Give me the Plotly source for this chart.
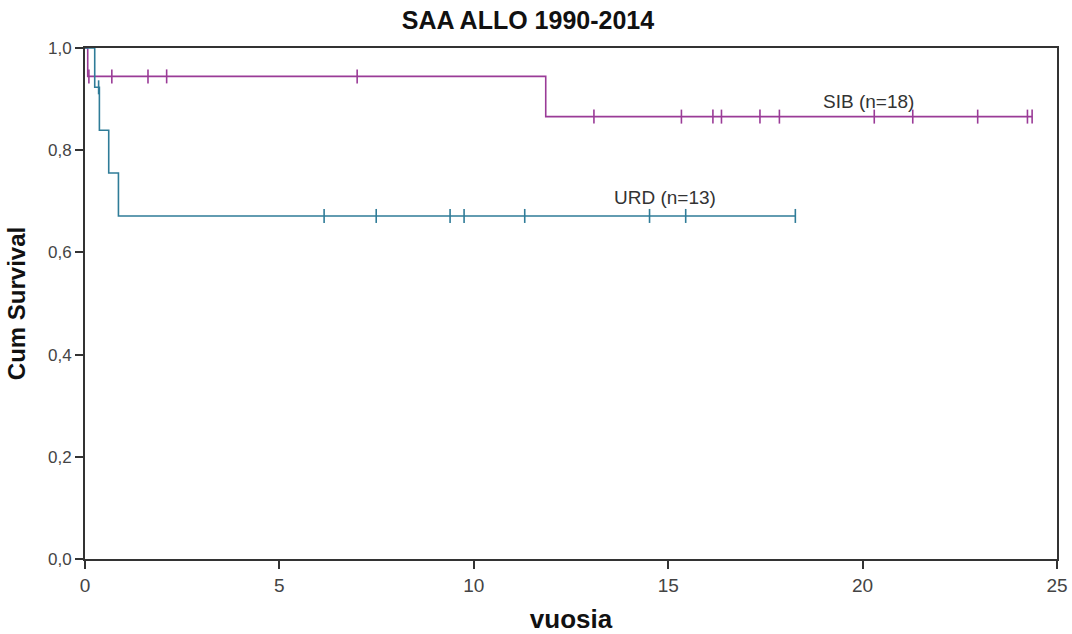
import plotly.graph_objects as go

# ---- data ----
sib_n = 18
sib_event_times = [0.07, 11.85]
sib_censor_times = [0.1, 0.69, 1.62, 2.1, 7.0, 13.09, 15.34, 16.15, 16.37, 17.36,
                    17.86, 20.30, 21.29, 22.96, 24.24, 24.36]

urd_n = 13
urd_event_times = [0.25, 0.37, 0.61, 0.86]
urd_censor_times = [0.35, 6.15, 7.49, 9.39, 9.75, 11.31, 14.52, 15.45, 18.27]

x_ticks = [0, 5, 10, 15, 20, 25]
y_ticks = [0.0, 0.2, 0.4, 0.6, 0.8, 1.0]

SIB_COLOR = "#9a3b97"
URD_COLOR = "#2f7c98"
FONT = "Liberation Sans, Arial, sans-serif"


def km(n, events, censors):
    """Kaplan-Meier step curve and survival at censored times."""
    items = sorted([(t, 1) for t in events] + [(t, 0) for t in censors])
    at_risk = n
    s = 1.0
    xs, ys = [0.0], [1.0]
    cx, cy = [], []
    for t, ev in items:
        if ev:
            s = s * (at_risk - 1) / at_risk
            xs.append(t)
            ys.append(s)
        else:
            cx.append(t)
            cy.append(s)
        at_risk -= 1
    last = max(t for t, _ in items)
    xs.append(last)
    ys.append(s)
    return xs, ys, cx, cy


fig = go.Figure()
for name, n, ev, ce, col in [("SIB", sib_n, sib_event_times, sib_censor_times, SIB_COLOR),
                              ("URD", urd_n, urd_event_times, urd_censor_times, URD_COLOR)]:
    xs, ys, cx, cy = km(n, ev, ce)
    fig.add_trace(go.Scatter(x=xs, y=ys, mode="lines", line=dict(color=col, width=1.6, shape="hv"),
                             showlegend=False, hoverinfo="skip", cliponaxis=False))
    fig.add_trace(go.Scatter(x=cx, y=cy, mode="markers",
                             marker=dict(symbol="line-ns-open", size=10, color=col,
                                         line=dict(color=col, width=1.6)),
                             showlegend=False, cliponaxis=False))

ann_font = dict(family=FONT, size=19, color="#333333")
fig.add_annotation(x=20.16, y=0.866, yshift=15, text="SIB (n=18)", showarrow=False, font=ann_font)
fig.add_annotation(x=14.91, y=0.671, yshift=19, text="URD (n=13)", showarrow=False, font=ann_font)

axis_common = dict(showgrid=False, zeroline=False, showline=True, linecolor="#333333",
                   linewidth=2, mirror=True, ticks="outside", ticklen=8, tickwidth=2,
                   tickcolor="#333333", automargin=False)

fig.update_xaxes(range=[0, 25], tickvals=x_ticks, ticktext=[str(v) for v in x_ticks],
                 tickfont=dict(family=FONT, size=19, color="#444444"),
                 title=dict(text="<b>vuosia</b>", font=dict(family=FONT, size=26, color="#111111"),
                            standoff=15),
                 **axis_common)
fig.update_yaxes(range=[0, 1.0], tickvals=y_ticks, tickformat=".1f",
                 tickfont=dict(family=FONT, size=17, color="#444444"),
                 title=dict(text="<b>Cum Survival</b>", font=dict(family=FONT, size=24, color="#111111"),
                            standoff=16),
                 **axis_common)

fig.update_layout(
    width=1072, height=634,
    margin=dict(l=85, r=15, t=48, b=75),
    paper_bgcolor="white", plot_bgcolor="white",
    separators=",.",
    title=dict(text="<b>SAA ALLO 1990-2014</b>", x=0.4925, xanchor="center", y=0.968, yanchor="middle",
               font=dict(family=FONT, size=25, color="#111111")),
)

fig.write_html("out.html")
